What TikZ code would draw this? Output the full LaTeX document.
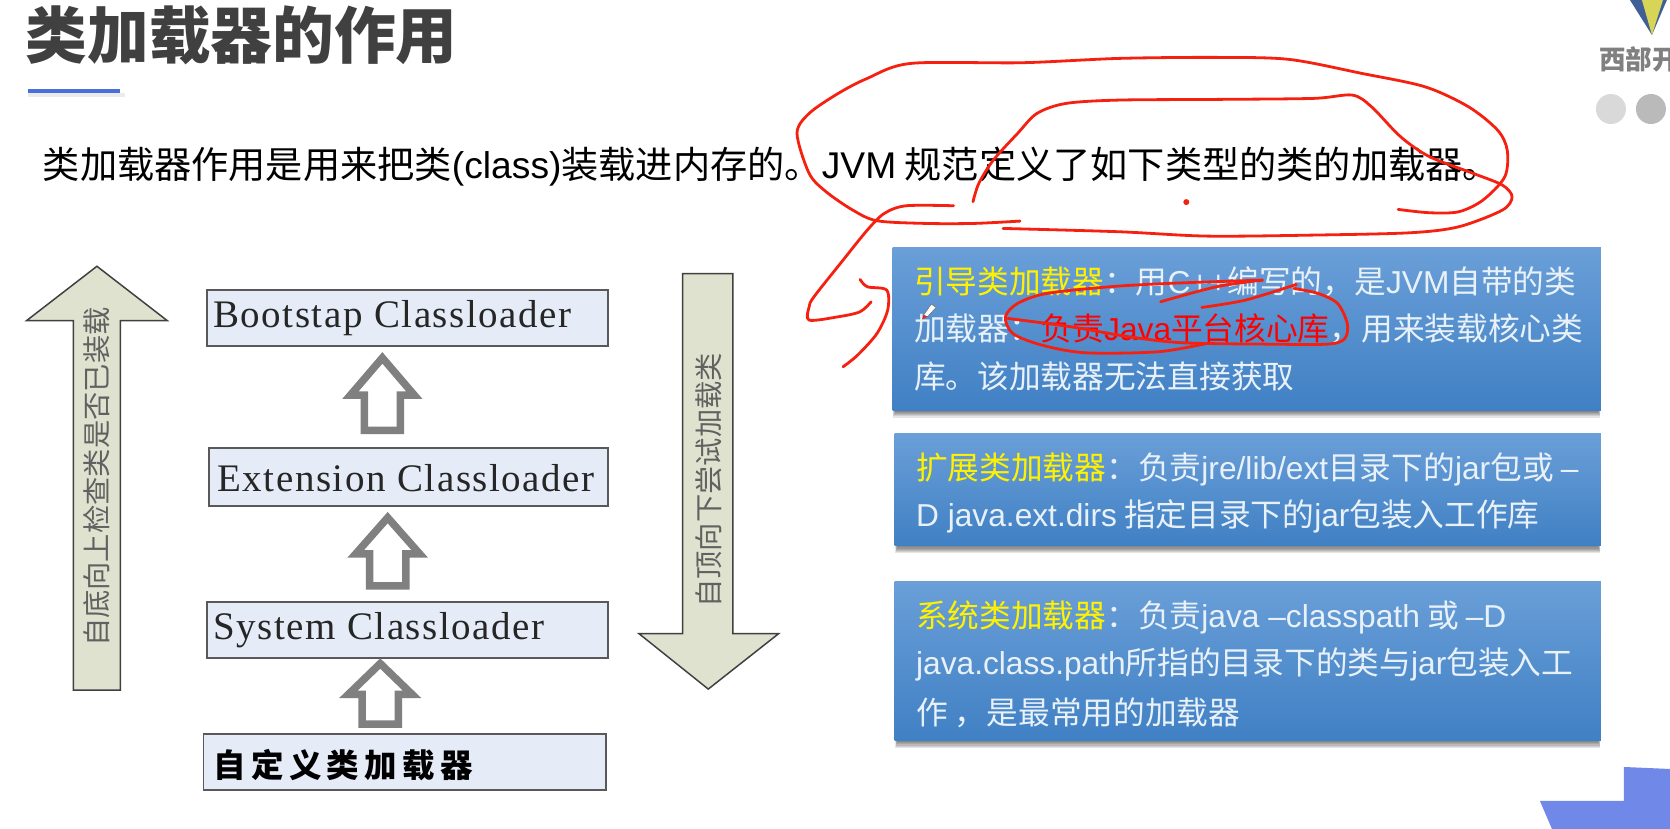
\documentclass[tikz,border=0pt]{standalone}
\usepackage{fontspec}
\setmainfont{Liberation Sans}
\newfontfamily\cjk{Noto Sans CJK SC}
\newfontfamily\latf{Liberation Sans}
\newfontfamily\serf[LetterSpace=4]{Liberation Serif}
\newcommand{\la}[1]{{\latf #1}}
\newcommand{\fs}[1]{\fontsize{#1pt}{#1pt}\selectfont}
\definecolor{hand}{HTML}{F5200F}
\definecolor{bodytxt}{HTML}{E9F1F8}
\definecolor{boxfill}{HTML}{E6ECF7}
\definecolor{arrowfill}{HTML}{DFE2CF}
\definecolor{bluetop}{HTML}{6A9FD8}
\definecolor{bluebot}{HTML}{4080C4}
\definecolor{accent}{HTML}{7088E8}
\definecolor{ulinec}{HTML}{4A6FD8}
\definecolor{logoblue}{HTML}{3F5F96}
\definecolor{logoyel}{HTML}{D8D455}
\tikzset{
  bluebox/.style={top color=bluetop,bottom color=bluebot},
  softshade/.style={fill=black,opacity=.1},
  txtline/.style={anchor=west,inner sep=0pt,text=bodytxt,font=\cjk\fs{31.7}},
  loader/.style={draw=black!65,line width=1.8pt,fill=boxfill},
  ltext/.style={anchor=west,inner sep=0pt,text=black!85,font=\serf\fs{39}},
  bigarrow/.style={draw=black!75,line width=1.5pt,fill=arrowfill},
  hollow/.style={draw=black!50,line width=7.5pt,fill=white,line join=miter},
  side/.style={inner sep=0pt,rotate=90,text=black!62,font=\cjk\fs{28.3}},
  penline/.style={draw=hand,line width=2.8pt,line cap=round,line join=round},
}
\newcommand{\hollowarrow}[5]{% name, x, tip, base, bottom
  \path[hollow] (#2,#3) -- (#2+30,#4) -- (#2+17,#4) -- (#2+17,#5) -- (#2-17,#5) -- (#2-17,#4) -- (#2-30,#4) -- cycle;
  \coordinate (#1) at (#2,#3);
}
\newcommand{\softbox}[4]{% x1,y1,x2,y2: blue panel over a blurred shadow
  \foreach \s in {1,2,3,4,5,6}{
    \path[softshade] (#1+\s*0.4,#2) rectangle (#3-\s*0.4,#4+8-\s);
  }
  \path[bluebox] (#1,#2) rectangle (#3,#4);
}
\begin{document}
\begin{tikzpicture}[x=1.0651pt,y=-1.0651pt]
\useasboundingbox (0,0) rectangle (1568,778.35);

% title
\node[anchor=west,inner sep=0pt,text=black!75,font=\cjk\bfseries\fs{61.7}] (title) at (24,33) {类加载器的作用};
\path[fill=black!8] (26,87) rectangle (117,91);
\path[fill=ulinec] (26,84) rectangle (113,87);

% sentence
\node[anchor=west,inner sep=0pt,text=black,font=\cjk\fs{37.2}] (intro) at (40,156) {类加载器作用是用来把类\la{(class)}装载进内存的。\la{JVM} 规范定义了如下类型的类的加载器。};

% big arrows
\path[bigarrow] (91,250) -- (157,301) -- (113,301) -- (113,648) -- (69,648) -- (69,301) -- (25,301) -- cycle;
\path[bigarrow] (641,257) -- (688,257) -- (688,595) -- (731,595) -- (665,647) -- (600,595) -- (641,595) -- cycle;
\node[side] (upt) at (91,448) {自底向上检查类是否已装载};
\node[side] (dnt) at (665,451) {自顶向下尝试加载类};

% loader boxes
\path[loader] (194,272) rectangle (571,325);
\path[loader] (196,421) rectangle (571,475);
\path[loader] (194,565) rectangle (571,618);
\path[loader] (191,689) rectangle (569,742);
\node[ltext] (bs) at (200,299) {Bootstap Classloader};
\node[ltext] (ex) at (204,449) {Extension Classloader};
\node[ltext] (sy) at (200,592) {System Classloader};
\node[anchor=west,inner sep=0pt,text=black,font=\cjk\bfseries\fs{32.5}] (cu) at (200,718) {自\,定\,义\,类\,加\,载\,器};

% hollow arrows
\hollowarrow{a1}{359}{336}{371}{404}
\hollowarrow{a2}{364}{486}{520}{550}
\hollowarrow{a3}{357}{623}{652}{680}

% blue boxes
\softbox{838}{232}{1503}{385}
\softbox{840}{407}{1503}{512}
\softbox{840}{546}{1503}{695}

\node[txtline] (b1a) at (858,265) {\textcolor{yellow}{引导类加载器}：用\la{C++}编写的，是\la{JVM}自带的类};
\node[txtline] (b1b) at (858,309) {加载器：\textcolor{red}{负责\la{Java}平台核心库}，用来装载核心类};
\node[txtline] (b1c) at (858,353) {库。该加载器无法直接获取};
\node[txtline] (b2a) at (860,441) {\textcolor{yellow}{扩展类加载器}：负责\la{jre/lib/ext}目录下的\la{jar}包或 \la{–}};
\node[txtline] (b2b) at (860,485) {\la{D java.ext.dirs} 指定目录下的\la{jar}包装入工作库};
\node[txtline] (b3a) at (860,580) {\textcolor{yellow}{系统类加载器}：负责\la{java –classpath} 或 \la{–D}};
\node[txtline] (b3b) at (860,624) {\la{java.class.path}所指的目录下的类与\la{jar}包装入工};
\node[txtline] (b3c) at (860,669) {作 ，是最常用的加载器};

% logo
\begin{scope}[x=1pt,y=-1pt]
  \fill[logoblue] (1630,0) -- (1667,0) -- (1652,35) -- cycle;
  \fill[logoyel] (1642,0) -- (1663,0) -- (1652,35) -- cycle;
  \node[anchor=west,inner sep=0pt,text=black!50,font=\cjk\bfseries\fs{26.5}] (logo) at (1599,59) {西部开};
  \fill[black!15] (1611,109) circle (15);
  \fill[black!27] (1651,109) circle (15);
  \fill[accent] (1540,801) -- (1624,801) -- (1624,767) -- (1670,769) -- (1670,829) -- (1552,829) -- cycle;
\end{scope}

% freehand marks
\begin{scope}[shift={(732.4,47)},x=0.4848pt,y=-0.3334pt]
  \draw[penline] plot[smooth,tension=.5] coordinates {(495,513) (400,520) (300,520) (200,512) (150,480) (95,425) (60,370) (35,250) (60,190) (120,130) (180,85) (270,40) (500,38) (700,25) (900,22) (1050,28) (1200,70) (1330,110) (1420,170) (1480,240) (1500,300) (1495,380) (1450,450) (1400,485) (1340,488) (1275,478)};
  \draw[penline] plot[smooth,tension=.5] coordinates {(398,455) (410,400) (440,330) (490,250) (530,190) (590,160) (700,150) (900,148) (1100,145) (1180,135) (1220,170) (1280,260) (1340,320) (1430,370) (1490,405) (1510,440) (1490,480) (1400,530) (1300,548) (1100,555) (880,558) (700,545) (460,535)};
  \draw[penline] plot[smooth,tension=.5] coordinates {(358,467) (260,467) (215,490) (180,540) (130,630) (70,740) (60,770) (60,810) (120,800) (165,785) (188,755)};
  \draw[penline] plot[smooth,tension=.5] coordinates {(165,688) (180,710) (220,720) (222,780) (200,850) (160,915) (130,950)};
  \fill[hand] (838,456) circle (3pt);
  \draw[penline] plot[smooth,tension=.5] coordinates {(995,690) (800,700) (680,710) (550,730) (490,760) (465,800) (480,850) (540,885) (630,908) (780,905) (880,880)};
  \draw[penline] plot[smooth,tension=.5] coordinates {(470,805) (600,830) (720,860) (830,878) (1000,882) (1130,882) (1165,865) (1170,820) (1150,760) (1110,730) (1060,715)};
  \draw[penline] plot[smooth,tension=.5] coordinates {(785,755) (900,710) (995,690)};
  \draw[penline] plot[smooth,tension=.5] coordinates {(870,772) (960,750) (1065,703)};
  % pen cursor
  \path[fill=white,draw=black!60,line width=.5pt] (312,762) -- (322,772) -- (304,800) -- (296,795) -- cycle;
  \fill[hand] (296,795) -- (304,800) -- (293,808) -- cycle;
\end{scope}
\end{tikzpicture}
\end{document}
